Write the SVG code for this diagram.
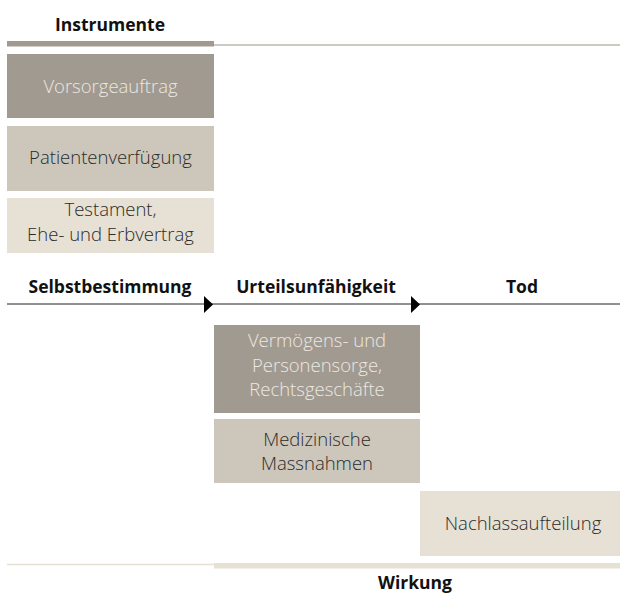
<svg xmlns="http://www.w3.org/2000/svg" width="620" height="595" viewBox="0 0 620 595">
<defs>
<style>
.t{font-family:"Open Sans","Noto Sans",sans-serif;font-size:18.5px;font-weight:300;text-anchor:middle;fill:#2b2b2b}
.tl{fill:#ece8e2}
.h{font-family:"Open Sans","Noto Sans",sans-serif;font-size:17.5px;font-weight:700;text-anchor:middle;fill:#111}
.c1{fill:#a19a90}
.c2{fill:#cdc7bb}
.c3{fill:#e7e0d4}
</style>
</defs>
<rect width="620" height="595" fill="#fff"/>
<g id="header-instrumente">
<text class="h" x="110" y="31">Instrumente</text>
<line x1="214" y1="45" x2="620" y2="45" stroke="#bdb8b1" stroke-width="1.5"/>
<rect class="c1" x="7" y="41" width="207" height="5.5"/>
</g>
<g id="vorsorgeauftrag">
<rect class="c1" x="7" y="54" width="207" height="64"/>
<text class="t tl" x="110.5" y="93">Vorsorgeauftrag</text>
</g>
<g id="patientenverfuegung">
<rect class="c2" x="7" y="126" width="207" height="65"/>
<text class="t" x="110.5" y="164">Patientenverfügung</text>
</g>
<g id="testament">
<rect class="c3" x="7" y="198" width="207" height="55"/>
<text class="t" x="110.5" y="216">Testament,</text>
<text class="t" x="110.5" y="241">Ehe- und Erbvertrag</text>
</g>
<g id="connectors">
<line x1="7" y1="304" x2="620" y2="304" stroke="#222" stroke-width="1"/>
<polygon points="204,296 213,304.5 204,313" fill="#000"/>
<polygon points="411,296 420,304.5 411,313" fill="#000"/>
</g>
<g id="selbstbestimmung"><text class="h" x="110" y="293">Selbstbestimmung</text></g>
<g id="urteilsunfaehigkeit"><text class="h" x="316" y="293">Urteilsunfähigkeit</text></g>
<g id="tod"><text class="h" x="522" y="293">Tod</text></g>
<g id="vermoegenssorge">
<rect class="c1" x="214" y="325" width="206" height="88"/>
<text class="t tl" x="317" y="347">Vermögens- und</text>
<text class="t tl" x="317" y="372">Personensorge,</text>
<text class="t tl" x="317" y="396">Rechtsgeschäfte</text>
</g>
<g id="medizinische-massnahmen">
<rect class="c2" x="214" y="419" width="206" height="64"/>
<text class="t" x="317" y="446">Medizinische</text>
<text class="t" x="317" y="470">Massnahmen</text>
</g>
<g id="nachlassaufteilung">
<rect class="c3" x="420" y="491" width="200" height="65"/>
<text class="t" x="523" y="530">Nachlassaufteilung</text>
</g>
<g id="footer-wirkung">
<line x1="7" y1="564.5" x2="214" y2="564.5" stroke="#e7e0d4" stroke-width="1.5"/>
<rect class="c3" x="214" y="563" width="406" height="5.5"/>
<text class="h" x="415" y="589">Wirkung</text>
</g>
</svg>
